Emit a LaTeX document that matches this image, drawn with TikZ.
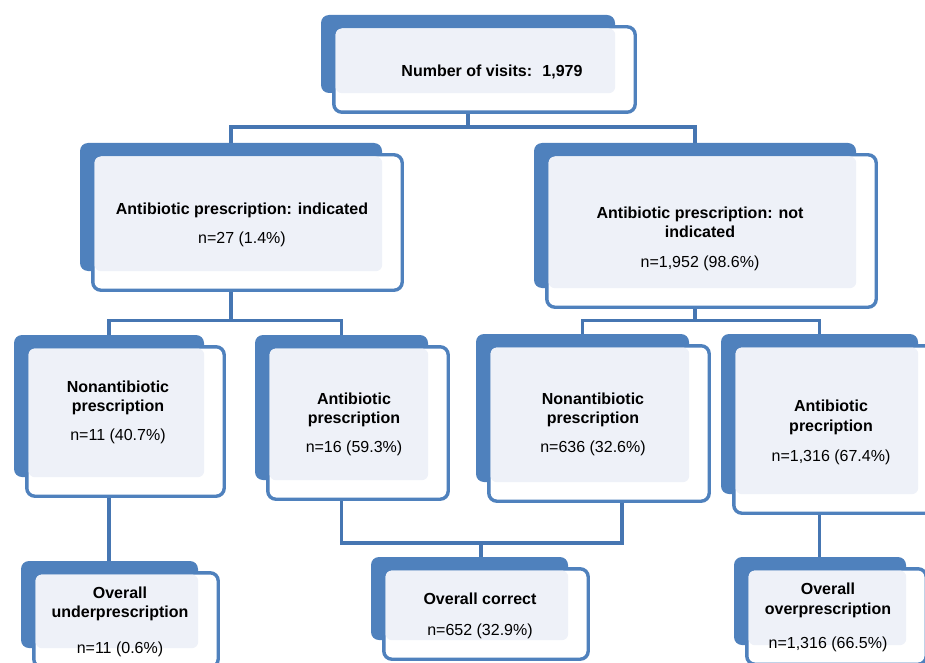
\documentclass[tikz,border=0pt]{standalone}
\usepackage{fontspec}
\setmainfont{Liberation Sans}
\usetikzlibrary{calc,positioning,fit,backgrounds}
\definecolor{boxblue}{HTML}{4F81BD}
\definecolor{linkblue}{HTML}{4676B2}
\definecolor{boxlight}{HTML}{EEF1F8}
\tikzset{
  backbox/.style={
    rectangle,
    rounded corners=8pt,
    % blue card behind
    fill=boxblue,
    inner sep=0pt},
  frontbox/.style={
    draw=boxblue, line width=3.4pt,
    fill=white,
    rounded corners=8pt},
  lightbox/.style={
    fill=boxlight,
    rounded corners=6.5pt},
  boxtext/.style={
    align=center,
    font=\fontsize{16}{19.5}\selectfont},
  link/.style={draw=linkblue, line width=3.4pt},
}
\newcommand{\visitbox}[3]{%
  \node[backbox, fit={#2 #3}] (#1) {};
  \draw[frontbox] ([shift={(13,12)}]#1.north west) rectangle ([shift={(20,19)}]#1.south east);
  \fill[lightbox] ([shift={(14.7,13.7)}]#1.north west) rectangle (#1.south east);
}
\begin{document}
\begin{tikzpicture}[x=1pt,y=-1pt]
\useasboundingbox (0,0) rectangle (925,663);

\visitbox{visits}{(321,15)}{(615,93)}
\visitbox{indicated}{(80,143)}{(382,271)}
\visitbox{notind}{(534,143)}{(856,288)}
\visitbox{nonabx1}{(14,335)}{(204,477)}
\visitbox{abx1}{(255,335)}{(428,480)}
\visitbox{nonabx2}{(476,334)}{(689,482)}
\visitbox{abx2}{(721,334)}{(918,494)}
\visitbox{under}{(21,561)}{(198,648)}
\visitbox{correct}{(371,557)}{(568,640)}
\visitbox{over}{(734,557)}{(906,645)}

\node[boxtext] (visits-t) at (492,72) {\textbf{Number of visits:~ 1,979}};
\node[boxtext] (indicated-t) at (242,224.5) {\textbf{Antibiotic prescription: indicated}\\[9.5pt] n=27 (1.4\%)};
\node[boxtext] (notind-t) at (700,239) {\textbf{Antibiotic prescription: not}\\\textbf{indicated}\\[10.5pt] n=1,952 (98.6\%)};
\node[boxtext] (nonabx1-t) at (118,412.5) {\textbf{Nonantibiotic}\\\textbf{prescription}\\[9.5pt] n=11 (40.7\%)};
\node[boxtext] (abx1-t) at (354,424.5) {\textbf{Antibiotic}\\\textbf{prescription}\\[9.5pt] n=16 (59.3\%)};
\node[boxtext] (nonabx2-t) at (593,424.5) {\textbf{Nonantibiotic}\\\textbf{prescription}\\[9.5pt] n=636 (32.6\%)};
\node[boxtext] (abx2-t) at (831,432.5) {\textbf{Antibiotic}\\\textbf{precription}\\[10.5pt] n=1,316 (67.4\%)};
\node[boxtext] (under-t) at (120,622) {\textbf{Overall}\\\textbf{underprescription}\\[16.5pt] n=11 (0.6\%)};
\node[boxtext] (correct-t) at (480,616) {\textbf{Overall correct}\\[11.5pt] n=652 (32.9\%)};
\node[boxtext] (over-t) at (828,617.5) {\textbf{Overall}\\\textbf{overprescription}\\[14.5pt] n=1,316 (66.5\%)};

\coordinate (fork) at (481,543);

\begin{pgfonlayer}{background}
\draw[link] (visits.south) -- ++(0,34) -| (indicated.north);
\draw[link] (visits.south) -- ++(0,34) -| (notind.north);
\draw[link] (indicated.south) -- ++(0,49) -| (nonabx1.north);
\draw[link] (indicated.south) -- ++(0,49) -| (abx1.north);
\draw[link] (notind.south) -- ++(0,32) -| (nonabx2.north);
\draw[link] (notind.south) -- ++(0,32) -| (abx2.north);
\draw[link] (nonabx1.south) -- (nonabx1.south |- under.north);
\draw[link] (abx1.south) |- (fork) -| ([xshift=39.5pt]nonabx2.south);
\draw[link] (fork) -- (fork |- correct.north);
\draw[link] (abx2.south) -- (abx2.south |- over.north);
\end{pgfonlayer}

\end{tikzpicture}
\end{document}
